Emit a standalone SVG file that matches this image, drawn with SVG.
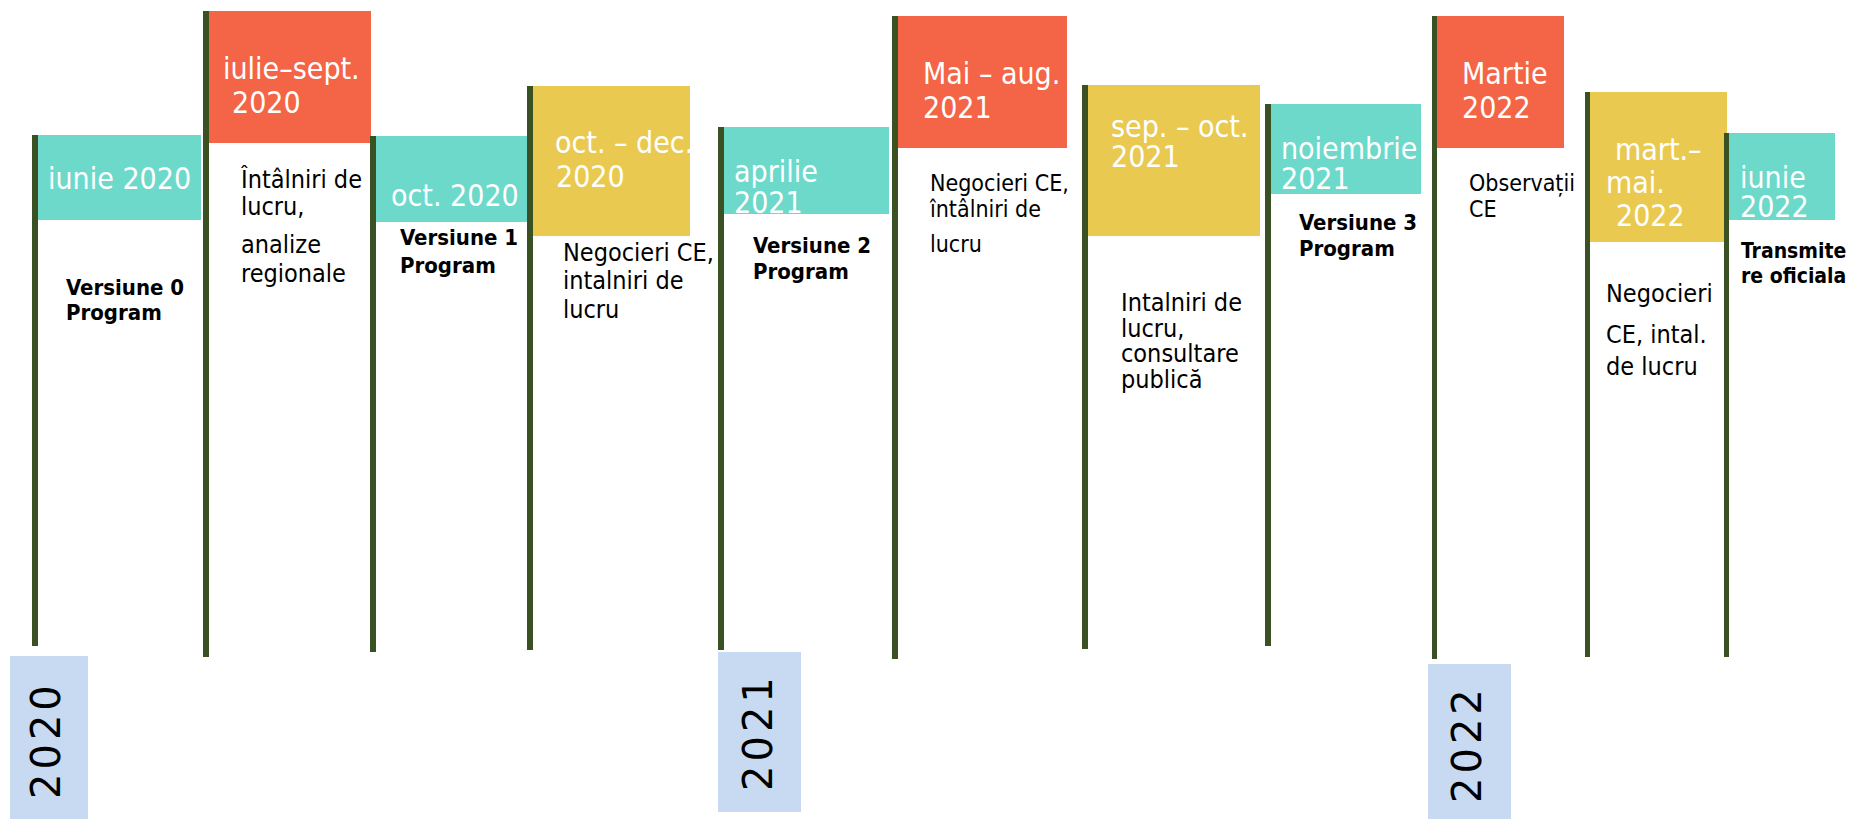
<svg xmlns="http://www.w3.org/2000/svg" width="1860" height="819" viewBox="0 0 1860 819">
<style>
.pole{fill:#3A5123}
.teal{fill:#6CD9CB}
.orange{fill:#F46446}
.yellow{fill:#E9C950}
.year{fill:#C8DAF1}
text{font-family:"DejaVu Sans Condensed","DejaVu Sans","Liberation Sans",sans-serif;font-stretch:condensed}
.lbl{font-size:30px;fill:#FFFFFF}
.body{font-size:25px;fill:#000000}
.body21{font-size:23px;fill:#000000}
.bold{font-size:22px;font-weight:bold;fill:#000000}
.yr{font-family:"DejaVu Sans","Liberation Sans",sans-serif;font-stretch:normal;font-size:40px;letter-spacing:4px;fill:#000000}
</style>
<rect width="1860" height="819" fill="#FFFFFF"/>

<g id="node-iunie-2020">
<rect class="teal" x="38" y="135" width="163" height="85"/>
<rect class="pole" x="32" y="135" width="6" height="511"/>
<text class="lbl" x="48" y="189">iunie 2020</text>
<text class="bold" x="66" y="295">Versiune 0</text>
<text class="bold" x="66" y="320">Program</text>
</g>

<g id="node-iulie-sept-2020">
<rect class="orange" x="209" y="11" width="162" height="132"/>
<rect class="pole" x="203" y="11" width="6" height="646"/>
<text class="lbl" x="223" y="79">iulie–sept.</text>
<text class="lbl" x="232" y="113">2020</text>
<text class="body" x="241" y="188">Întâlniri de</text>
<text class="body" x="241" y="215">lucru,</text>
<text class="body" x="241" y="253">analize</text>
<text class="body" x="241" y="282">regionale</text>
</g>

<g id="node-oct-2020">
<rect class="teal" x="376" y="136" width="153" height="86"/>
<rect class="pole" x="370" y="136" width="6" height="516"/>
<text class="lbl" x="391" y="206">oct. 2020</text>
<text class="bold" x="400" y="245">Versiune 1</text>
<text class="bold" x="400" y="273">Program</text>
</g>

<g id="node-oct-dec-2020">
<rect class="yellow" x="532" y="86" width="158" height="150"/>
<rect class="pole" x="527" y="86" width="6" height="564"/>
<text class="lbl" x="555" y="153">oct. – dec.</text>
<text class="lbl" x="556" y="187">2020</text>
<text class="body" x="563" y="261">Negocieri CE,</text>
<text class="body" x="563" y="289">intalniri de</text>
<text class="body" x="563" y="318">lucru</text>
</g>

<g id="node-aprilie-2021">
<rect class="teal" x="724" y="127" width="165" height="87"/>
<rect class="pole" x="718" y="127" width="6" height="523"/>
<text class="lbl" x="734" y="182">aprilie</text>
<text class="lbl" x="734" y="213">2021</text>
<text class="bold" x="753" y="253">Versiune 2</text>
<text class="bold" x="753" y="279">Program</text>
</g>

<g id="node-mai-aug-2021">
<rect class="orange" x="898" y="16" width="169" height="132"/>
<rect class="pole" x="892" y="16" width="6" height="643"/>
<text class="lbl" x="923" y="84">Mai – aug.</text>
<text class="lbl" x="923" y="118">2021</text>
<text class="body21" x="930" y="191">Negocieri CE,</text>
<text class="body21" x="930" y="217">întâlniri de</text>
<text class="body21" x="930" y="252">lucru</text>
</g>

<g id="node-sep-oct-2021">
<rect class="yellow" x="1088" y="85" width="172" height="151"/>
<rect class="pole" x="1082" y="85" width="6" height="564"/>
<text class="lbl" x="1111" y="137">sep. – oct.</text>
<text class="lbl" x="1111" y="167">2021</text>
<text class="body" x="1121" y="311">Intalniri de</text>
<text class="body" x="1121" y="337">lucru,</text>
<text class="body" x="1121" y="362">consultare</text>
<text class="body" x="1121" y="388">publică</text>
</g>

<g id="node-noiembrie-2021">
<rect class="teal" x="1271" y="104" width="150" height="90"/>
<rect class="pole" x="1265" y="104" width="6" height="542"/>
<text class="lbl" x="1281" y="159">noiembrie</text>
<text class="lbl" x="1281" y="189">2021</text>
<text class="bold" x="1299" y="230">Versiune 3</text>
<text class="bold" x="1299" y="256">Program</text>
</g>

<g id="node-martie-2022">
<rect class="orange" x="1437" y="16" width="127" height="132"/>
<rect class="pole" x="1432" y="16" width="5" height="643"/>
<text class="lbl" x="1462" y="84">Martie</text>
<text class="lbl" x="1462" y="118">2022</text>
<text class="body21" x="1469" y="191">Observații</text>
<text class="body21" x="1469" y="217">CE</text>
</g>

<g id="node-mart-mai-2022">
<rect class="yellow" x="1590" y="92" width="137" height="150"/>
<rect class="pole" x="1585" y="92" width="5" height="565"/>
<text class="lbl" x="1615" y="160">mart.–</text>
<text class="lbl" x="1606" y="193">mai.</text>
<text class="lbl" x="1616" y="226">2022</text>
<text class="body" x="1606" y="302">Negocieri</text>
<text class="body" x="1606" y="343">CE, intal.</text>
<text class="body" x="1606" y="375">de lucru</text>
</g>

<g id="node-iunie-2022">
<rect class="teal" x="1728" y="133" width="107" height="87"/>
<rect class="pole" x="1724" y="133" width="5" height="524"/>
<text class="lbl" x="1740" y="188">iunie</text>
<text class="lbl" x="1740" y="217">2022</text>
<text class="bold" x="1741" y="258" style="font-size:21px">Transmite</text>
<text class="bold" x="1741" y="283" style="font-size:21px">re oficiala</text>
</g>

<g id="year-2020">
<rect class="year" x="10" y="656" width="78" height="163"/>
<text class="yr" transform="translate(60,799) rotate(-90)">2020</text>
</g>

<g id="year-2021">
<rect class="year" x="718" y="652" width="83" height="160"/>
<text class="yr" transform="translate(772,791) rotate(-90)">2021</text>
</g>

<g id="year-2022">
<rect class="year" x="1428" y="664" width="83" height="155"/>
<text class="yr" transform="translate(1481,803) rotate(-90)">2022</text>
</g>
</svg>
